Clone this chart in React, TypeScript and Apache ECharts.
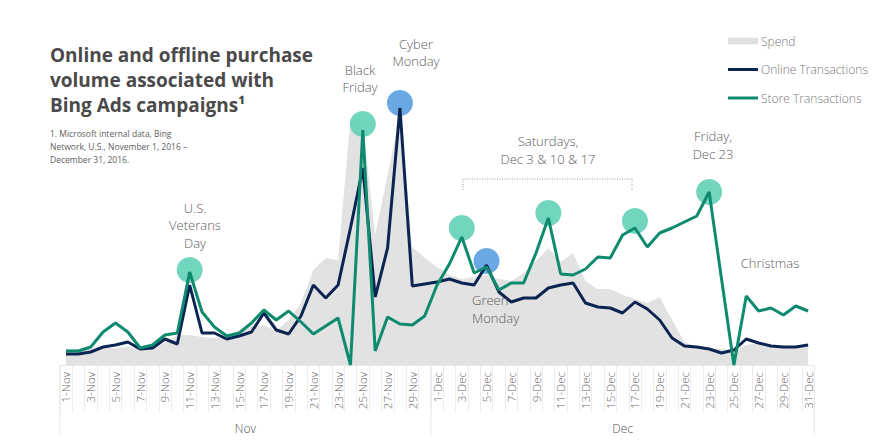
import React, { useEffect, useRef } from "react";
import * as echarts from "echarts";

const categories: string[] = [
  "1-Nov", "2-Nov", "3-Nov", "4-Nov", "5-Nov", "6-Nov", "7-Nov", "8-Nov", "9-Nov", "10-Nov",
  "11-Nov", "12-Nov", "13-Nov", "14-Nov", "15-Nov", "16-Nov", "17-Nov", "18-Nov", "19-Nov", "20-Nov",
  "21-Nov", "22-Nov", "23-Nov", "24-Nov", "25-Nov", "26-Nov", "27-Nov", "28-Nov", "29-Nov", "30-Nov",
  "1-Dec", "2-Dec", "3-Dec", "4-Dec", "5-Dec", "6-Dec", "7-Dec", "8-Dec", "9-Dec", "10-Dec",
  "11-Dec", "12-Dec", "13-Dec", "14-Dec", "15-Dec", "16-Dec", "17-Dec", "18-Dec", "19-Dec", "20-Dec",
  "21-Dec", "22-Dec", "23-Dec", "24-Dec", "25-Dec", "26-Dec", "27-Dec", "28-Dec", "29-Dec", "30-Dec",
  "31-Dec",
];

const spend: number[] = [
  16, 16, 16, 17, 17, 18, 18, 19, 22, 30,
  30, 28, 27, 29, 34, 38, 40, 34, 45, 62,
  95, 107, 105, 247, 240, 130, 190, 250, 118, 107,
  98, 90, 86, 88, 90, 86, 84, 92, 104, 117,
  103, 112, 84, 76, 76, 70, 66, 62, 68, 45,
  23, 18, 17, 16, 15, 20, 22, 20, 18, 18,
  18,
];

const online: number[] = [
  11, 11, 13, 18, 20, 23, 16, 17, 26, 21,
  80, 32, 32, 26, 29, 33, 52, 35, 31, 49,
  80, 67, 80, 137, 197, 68, 117, 257, 79, 81,
  83, 86, 82, 80, 100, 73, 63, 67, 67, 77,
  80, 82, 62, 58, 57, 52, 63, 56, 45, 27,
  19, 18, 16, 12, 15, 26, 22, 19, 18, 18,
  20,
];

const store: number[] = [
  14, 14, 18, 33, 42, 33, 17, 20, 30, 32,
  93, 53, 38, 29, 32, 42, 55, 45, 54, 43,
  31, 39, 47, 0, 235, 14, 48, 41, 40, 49,
  80, 101, 128, 92, 98, 75, 82, 82, 112, 147,
  91, 90, 96, 108, 107, 130, 137, 118, 132, 137,
  143, 149, 173, 86, 0, 69, 54, 57, 50, 59,
  54,
];

// highlighted days: [category index, value]
const storePeaks: number[][] = [[10, 95], [24, 241], [32, 137], [39, 152], [46, 144], [52, 173]];
const onlinePeaks: number[][] = [[27, 262], [34, 104]];

const months: string[] = ["Nov", "Dec"];
const monthStart: number[] = [0, 30];
const monthEnd: number[] = [29, 60];

const FONT = "'Segoe UI', 'Open Sans', 'Noto Sans', sans-serif";

export default function App() {
  const ref = useRef<HTMLDivElement>(null);
  useEffect(() => {
    const chart = echarts.init(ref.current!, null, { renderer: "svg" });
    chart.setOption({
      animation: false,
      backgroundColor: "#ffffff",
      title: {
        text: "Online and offline purchase\nvolume associated with\nBing Ads campaigns¹",
        subtext: "1. Microsoft internal data, Bing\nNetwork, U.S., November 1, 2016 –\nDecember 31, 2016.",
        left: 50,
        top: 42,
        padding: 0,
        itemGap: 10,
        textStyle: {
          fontFamily: "'Open Sans', sans-serif",
          fontWeight: 700,
          fontSize: 19,
          lineHeight: 25,
          color: "#4a4a4a",
        },
        subtextStyle: {
          fontFamily: FONT,
          fontSize: 8.5,
          lineHeight: 13,
          color: "#5e5e5e",
        },
      },
      legend: {
        orient: "vertical",
        left: 728,
        top: 35,
        padding: 0,
        itemWidth: 30,
        itemHeight: 8,
        itemGap: 16.5,
        textStyle: { fontFamily: FONT, fontSize: 12, color: "#7a7a7a", fontWeight: 300, padding: [0, 0, 0, -2] },
        data: [
          { name: "Spend", icon: "path://M0,0H27V6H0Z", itemStyle: { color: "#e0e0e0", borderWidth: 0 } },
          { name: "Online Transactions", icon: "path://M0,0H30V3H0Z", itemStyle: { color: "#0b2452", borderWidth: 0 } },
          { name: "Store Transactions", icon: "path://M0,0H30V3H0Z", itemStyle: { color: "#0e8a6f", borderWidth: 0 } },
        ],
      },
      grid: { left: 59.8, right: 75.7, top: 65, bottom: 79, containLabel: false },
      xAxis: {
        type: "category",
        data: categories,
        boundaryGap: true,
        axisLine: { show: true, lineStyle: { color: "#e8e8e8", width: 1 } },
        axisTick: { show: true, interval: 0, length: 46, lineStyle: { color: "#ececec" } },
        axisLabel: {
          interval: 1,
          rotate: 90,
          margin: 7,
          fontSize: 11.5,
          fontFamily: FONT,
          fontWeight: 300,
          color: "#666666",
        },
        splitLine: { show: false },
      },
      yAxis: { type: "value", min: 0, max: 300, show: false },
      series: [
        {
          name: "Spend",
          type: "line",
          data: spend,
          symbol: "none",
          color: "#e0e0e0",
          lineStyle: { width: 0, color: "#e0e0e0" },
          areaStyle: { color: "#e2e2e2", opacity: 1 },
          z: 1,
          silent: true,
        },
        {
          name: "storePeaks",
          type: "scatter",
          data: storePeaks,
          symbolSize: 26,
          itemStyle: { color: "#63d1b8", opacity: 0.9 },
          z: 2,
          silent: true,
        },
        {
          name: "onlinePeaks",
          type: "scatter",
          data: onlinePeaks,
          symbolSize: 26,
          itemStyle: { color: "#5a9fe0", opacity: 0.9 },
          z: 2,
          silent: true,
        },
        {
          name: "Online Transactions",
          type: "line",
          data: online,
          symbol: "none",
          color: "#0b2452",
          lineStyle: { width: 3, color: "#0b2452" },
          z: 3,
        },
        {
          name: "Store Transactions",
          type: "line",
          data: store,
          symbol: "none",
          color: "#0e8a6f",
          lineStyle: { width: 3, color: "#0e8a6f" },
          z: 4,
        },
      ],
    });

    const px = (i: number) => chart.convertToPixel({ xAxisIndex: 0 }, i) as number;
    const baseY = chart.convertToPixel({ yAxisIndex: 0 }, 0) as number;
    const w = px(1) - px(0);
    const graphics: any[] = [];
    const bounds = new Set<number>();
    months.forEach((m, k) => {
      const l = px(monthStart[k]) - w / 2;
      const r = px(monthEnd[k]) + w / 2;
      bounds.add(Math.round(l * 10) / 10);
      bounds.add(Math.round(r * 10) / 10);
      graphics.push({
        type: "text",
        x: (l + r) / 2,
        y: 428,
        style: {
          text: m,
          align: "center",
          verticalAlign: "middle",
          fontFamily: FONT,
          fontWeight: 300,
          fontSize: 12,
          fill: "#555555",
        },
      });
    });
    bounds.forEach((b) => {
      graphics.push({
        type: "line",
        shape: { x1: b, y1: baseY, x2: b, y2: 435 },
        style: { stroke: "#e6e6e6", lineWidth: 1 },
      });
    });

    const STEP = 17.5;
    const ann = (lines: string[], x: number, yFirst: number, align = "center") => {
      lines.forEach((t, i) => {
        graphics.push({
          type: "text",
          x,
          y: yFirst + i * STEP,
          z: 10,
          style: {
            text: t,
            align,
            verticalAlign: "middle",
            fontFamily: FONT,
            fontWeight: 300,
            fontSize: 13,
            fill: "#5c5c5c",
          },
        });
      });
    };
    ann(["U.S.", "Veterans", "Day"], 195, 207.5);
    ann(["Black", "Friday"], 360, 69.75);
    ann(["Cyber", "Monday"], 416, 43.75);
    ann(["Saturdays,", "Dec 3 & 10 & 17"], 548, 141.25);
    ann(["Green", "Monday"], 472, 300.25, "left");
    ann(["Friday,", "Dec 23"], 713, 136.25);
    ann(["Christmas"], 770, 262.5);
    graphics.push({
      type: "polyline",
      shape: { points: [[463, 190], [463, 179], [632, 179], [632, 190]] },
      style: { stroke: "#9a9a9a", lineWidth: 1, lineDash: [1, 1.5], fill: null },
    });

    chart.setOption({ graphic: graphics });

    return () => chart.dispose();
  }, []);
  return (
    <div
      ref={ref}
      style={{ position: "absolute", left: 0, top: 0, width: 890, height: 444 }}
    />
  );
}
